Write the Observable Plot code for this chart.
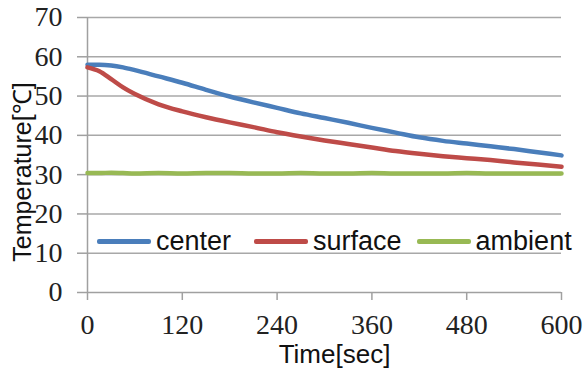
<!DOCTYPE html>
<html><head><meta charset="utf-8">
<script src="https://cdn.jsdelivr.net/npm/d3@7"></script>
<script src="https://cdn.jsdelivr.net/npm/@observablehq/plot@0.6"></script>
<style>
body{margin:0;background:#fff;}
#wrap{position:relative;width:586px;height:372px;overflow:hidden;}
#legend{position:absolute;left:97px;top:226px;display:flex;align-items:center;font-family:"Liberation Sans",Arial,sans-serif;font-size:27px;color:#111;white-space:nowrap;}
.item{display:flex;align-items:center;}
.item:nth-child(1){margin-right:23px;}
.item:nth-child(2){margin-right:15px;}
.sw{width:54px;height:4.5px;border-radius:2px;margin-right:5px;}
</style></head><body><div id="wrap"><div id="legend"></div></div>
<script>
const time    = [0,15,30,45,60,90,120,150,180,210,240,270,300,330,360,390,420,450,480,510,540,570,600];
const center  = [58.0,58.0,57.8,57.3,56.6,55.0,53.4,51.6,49.9,48.4,47.0,45.6,44.4,43.2,41.9,40.7,39.5,38.6,37.9,37.2,36.5,35.7,34.9];
const surface = [57.3,56.3,54.3,52.2,50.5,47.9,46.1,44.6,43.3,42.1,40.8,39.7,38.7,37.8,36.9,36.0,35.3,34.7,34.2,33.7,33.1,32.6,32.0];
const ambient = [30.4,30.4,30.5,30.4,30.3,30.4,30.3,30.4,30.4,30.3,30.3,30.4,30.3,30.3,30.4,30.3,30.3,30.3,30.4,30.3,30.3,30.3,30.3];
const seriesNames  = ["center","surface","ambient"];
const seriesColors = ["#4a7ebb","#be4b48","#98b954"];
const xTicks = [0,120,240,360,480,600];
const yTicks = [0,10,20,30,40,50,60,70];
const xTitle = "Time[sec]";
const yTitle = "Temperature[℃]";

const seriesValues = [center, surface, ambient];
const rows = [];
seriesNames.forEach((s,i)=>time.forEach((t,j)=>rows.push({series:s,t,v:seriesValues[i][j]})));

const tickFont = "'Liberation Serif','DejaVu Serif',serif";
const sansFont = "'Liberation Sans',Arial,sans-serif";

const plot = Plot.plot({
  width:586, height:372,
  marginLeft:87, marginRight:25, marginTop:17, marginBottom:80,
  x:{domain:[0,600], ticks:xTicks, label:null},
  y:{domain:[0,70], ticks:yTicks, label:null},
  color:{domain:seriesNames, range:seriesColors},
  style:{fontFamily:tickFont, fontSize:"28px", color:"#222", background:"#fff", overflow:"visible"},
  marks:[
    Plot.gridY(yTicks.filter(v=>v>0), {stroke:"#a8a8a8", strokeOpacity:1, strokeWidth:1.5}),
    Plot.axisY({ticks:yTicks, tickSize:10, tickPadding:15, stroke:"#a0a0a0", strokeWidth:1.5, fill:"#222", fontSize:28, fontFamily:tickFont, label:null}),
    Plot.axisX({ticks:xTicks, tickSize:8, tickPadding:14, stroke:"#a0a0a0", strokeWidth:1.5, fill:"#222", fontSize:28, fontFamily:tickFont, label:null}),
    Plot.ruleX([0], {stroke:"#a0a0a0", strokeWidth:1.5}),
    Plot.ruleY([0], {stroke:"#a0a0a0", strokeWidth:1.5}),
    Plot.line(rows, {x:"t", y:"v", z:"series", stroke:"series", strokeWidth:4.5, curve:"monotone-x"}),
    Plot.text([yTitle], {frameAnchor:"left", textAnchor:"middle", dx:-65, dy:17, rotate:-90, text:d=>d, fontFamily:sansFont, fontSize:25, fill:"#111"}),
    Plot.text([xTitle], {frameAnchor:"bottom", lineAnchor:"middle", dx:10, dy:62, text:d=>d, fontFamily:sansFont, fontSize:26, fill:"#111"})
  ]
});
document.getElementById("wrap").prepend(plot);

const legend = document.getElementById("legend");
seriesNames.forEach((s,i)=>{
  const it = document.createElement("div"); it.className="item";
  const sw = document.createElement("div"); sw.className="sw"; sw.style.background=seriesColors[i];
  const tx = document.createElement("span"); tx.textContent=s;
  it.append(sw,tx); legend.append(it);
});
</script>
</body></html>
